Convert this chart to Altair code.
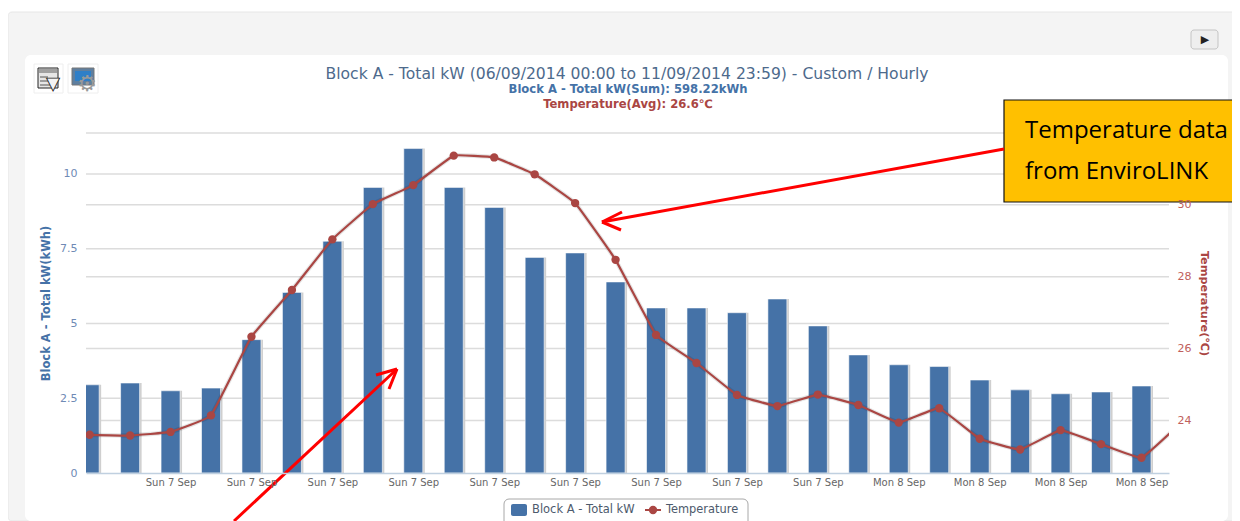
import altair as alt
import pandas as pd

energy_kw = [2.95, 3.01, 2.75, 2.84, 4.46, 6.04, 7.75, 9.55, 10.85, 9.55, 8.88, 7.21, 7.36, 6.39,
             5.52, 5.52, 5.36, 5.82, 4.92, 3.95, 3.62, 3.56, 3.11, 2.78, 2.65, 2.71, 2.91]
temperature_c = [23.60, 23.58, 23.68, 24.14, 26.33, 27.63, 29.04, 30.02, 30.55, 31.37, 31.32, 30.85, 30.05, 28.47,
                 26.38, 25.60, 24.71, 24.40, 24.72, 24.43, 23.94, 24.34, 23.49, 23.19, 23.73, 23.34, 22.96, 23.96]
tick_positions = [2, 4, 6, 8, 10, 12, 14, 16, 18, 20, 22, 24, 26]
tick_labels = ["Sun 7 Sep"] * 9 + ["Mon 8 Sep"] * 4
left_grid = [2.5, 5, 7.5, 10]
right_grid = [24, 26, 28, 30, 32]
left_ticks = [0, 2.5, 5, 7.5, 10]
right_ticks = [24, 26, 28, 30]

title_main = "Block A - Total kW (06/09/2014 00:00 to 11/09/2014 23:59) - Custom / Hourly"
title_sum = "Block A - Total kW(Sum): 598.22kWh"
title_avg = "Temperature(Avg): 26.6℃"
name_bar = "Block A - Total kW"
name_line = "Temperature"
callout = ["Temperature data", "from EnviroLINK"]

BLUE, RED = "#4572A7", "#AA4643"
FONT = "DejaVu Sans"
L, T, W, H = 86, 133, 1083, 340
XDOM = [-0.09, 26.68]
LDOM = [0, 11.37]
RDOM = [22.537, 32]

bars_df = pd.DataFrame({"i": range(len(energy_kw)), "kw": energy_kw})
line_df = pd.DataFrame({"i": range(len(temperature_c)), "t": temperature_c})
one = alt.Data(values=[{}])


def X(p):
    return alt.value(p - L)


def Y(p):
    return alt.value(p - T)


def box(x0, y0, x1, y1, **kw):
    return alt.Chart(one).mark_rect(**kw).encode(x=X(x0), x2=X(x1), y=Y(y0), y2=Y(y1))


def seg(x0, y0, x1, y1, color="red", width=3, **kw):
    return alt.Chart(one).mark_rule(color=color, strokeWidth=width, **kw).encode(
        x=X(x0), x2=X(x1), y=Y(y0), y2=Y(y1))


def label(x, y, s, size=11, color="#333", align="left", weight="normal", font=FONT, **kw):
    return alt.Chart(one).mark_text(align=align, baseline="middle", fontSize=size, color=color,
                                    fontWeight=weight, font=font, **kw).encode(
        x=X(x), y=Y(y), text=alt.value(s))


x_enc = alt.X("i:Q", scale=alt.Scale(domain=XDOM, nice=False, zero=False, padding=0),
              axis=alt.Axis(values=tick_positions, grid=False, title=None, tickSize=0, labelPadding=4,
                            domainColor="#C0D0E0", domainWidth=1.5, labelColor="#666", labelFont=FONT,
                            labelFontSize=10, zindex=1, labelOverlap=False, labelFlush=False,
                            labelExpr="datum.value >= 20 ? '%s' : '%s'" % (tick_labels[-1], tick_labels[0])))
yl = alt.Scale(domain=LDOM, nice=False, zero=True)
yr = alt.Scale(domain=RDOM, nice=False, zero=False)

panel = box(8, 12, 1240, 521, color="#f4f4f4", stroke="#e6e6e6", cornerRadius=4)
card = box(25, 55, 1228, 521, color="#ffffff", cornerRadius=6)

grid_l = alt.Chart(pd.DataFrame({"v": left_grid})).mark_rule(color="#dcdcdc", strokeWidth=1.5).encode(
    y=alt.Y("v:Q", scale=yl, axis=None), x=alt.value(0), x2=alt.value(W))
grid_r = alt.Chart(pd.DataFrame({"v": right_grid})).mark_rule(color="#dcdcdc", strokeWidth=1.5).encode(
    y=alt.Y("v:Q", scale=yr, axis=None), x=alt.value(0), x2=alt.value(W))

shadow = alt.Chart(bars_df).mark_bar(size=19, xOffset=2, color="#cfcfcf", clip=True, orient="vertical").encode(
    x=x_enc, y=alt.Y("kw:Q", scale=yl, axis=None))
bars = alt.Chart(bars_df).mark_bar(size=19, color=BLUE, stroke="#ffffff", strokeWidth=0.6, clip=True,
                                   orient="vertical").encode(
    x=x_enc,
    y=alt.Y("kw:Q", scale=yl,
            axis=alt.Axis(orient="left", values=left_ticks, grid=False, domain=False, ticks=False, zindex=1,
                          title=name_bar + "(kWh)", titleColor=BLUE, titleFont=FONT, titleFontSize=11.5,
                          titleFontWeight="bold", titlePadding=8, labelColor="#6f8ab5", labelFont=FONT,
                          labelFontSize=11, labelPadding=9,
                          labelExpr="format(datum.value, '')")))
line_shadow = alt.Chart(line_df).mark_line(color="#000000", opacity=0.1, strokeWidth=4.5, interpolate="cardinal",
                                           tension=0.75, clip=True).encode(
    x=x_enc, y=alt.Y("t:Q", scale=yr, axis=None))
line = alt.Chart(line_df).mark_line(color=RED, strokeWidth=2.2, interpolate="cardinal", tension=0.75,
                                    clip=True).encode(
    x=x_enc,
    y=alt.Y("t:Q", scale=yr,
            axis=alt.Axis(orient="right", values=right_ticks, grid=False, domain=False, ticks=False, zindex=1,
                          title="Temperature(℃)", titleColor=RED, titleFont=FONT, titleFontSize=11.3,
                          titleFontWeight="bold", titlePadding=8, labelColor="#c0605c", labelFont=FONT,
                          labelFontSize=11, labelPadding=8, format="d")))
dots = alt.Chart(line_df).mark_point(filled=True, color=RED, size=70, opacity=1, clip=True).encode(
    x=x_enc, y=alt.Y("t:Q", scale=yr, axis=None))

layers = [panel, card, grid_l, grid_r, shadow, bars, line_shadow, line, dots,
          # titles
          label(627, 74, title_main, size=15.6, color="#4d6a8c", align="center"),
          label(628, 90, title_sum, size=11.6, color=BLUE, align="center", weight="bold"),
          label(628, 105, title_avg, size=11.6, color=RED, align="center", weight="bold"),
          # legend
          box(504, 499, 748, 530, color="#ffffff", stroke="#a8a8a8", cornerRadius=5),
          box(511, 504, 527, 516, color=BLUE, cornerRadius=2),
          label(532, 510, name_bar, size=11.5, color="#4d5a6c"),
          seg(645, 510, 661, 510, color=RED, width=2),
          alt.Chart(one).mark_point(filled=True, color=RED, size=70, opacity=1).encode(x=X(653), y=Y(510)),
          label(666, 510, name_line, size=11.4, color="#4d5a6c"),
          # play button
          box(1191, 30, 1218, 49, color="#eeeeee", stroke="#c4c4c4", cornerRadius=3),
          label(1205, 40, "▶", size=11, color="#222", align="center"),
          # icons
          box(34, 64, 63, 93, color="#ffffff", stroke="#eeeeee"),
          box(38, 68, 58, 88, color="#e6e6e6", stroke="#222222"),
          box(39, 69, 57, 73, color="#a0a0a0"),
          seg(40, 77, 48, 77, color="#555555", width=1),
          seg(40, 81, 49, 81, color="#555555", width=1),
          seg(40, 85, 50, 85, color="#555555", width=1),
          label(53, 84, "▼", size=17, color="#f4f4f4", align="center", stroke="#222222", strokeWidth=0.9),
          box(68, 64, 98, 93, color="#ffffff", stroke="#eeeeee"),
          box(72, 68, 94, 85, color="#5f7f9f", stroke="#777777"),
          box(75, 71, 91, 81, color="#2f7fc8"),
          label(87, 84, "⚙", size=22, color="#9a9a9a", align="center"),
          # callout
          box(1004, 100, 1260, 202, color="#FFC000", stroke="#111111", strokeWidth=1.2),
          label(1025, 131, callout[0], size=24, color="#000000", font="Open Sans"),
          label(1025, 172, callout[1], size=24, color="#000000", font="Open Sans"),
          # arrows
          seg(1004, 149, 602, 222), seg(602, 222, 622, 212), seg(602, 222, 621, 230),
          seg(234, 521, 397, 369), seg(397, 369, 376, 375), seg(397, 369, 389, 389),
          ]

chart = alt.layer(*layers).resolve_scale(y="independent").properties(
    width=W, height=H,
    autosize=alt.AutoSizeParams(type="none"),
    padding={"left": L - 8, "top": T - 8, "right": 63, "bottom": 48},
    background="#ffffff",
).configure_view(stroke=None)

chart.save("out.html", embed_options={"renderer": "svg", "actions": False})
